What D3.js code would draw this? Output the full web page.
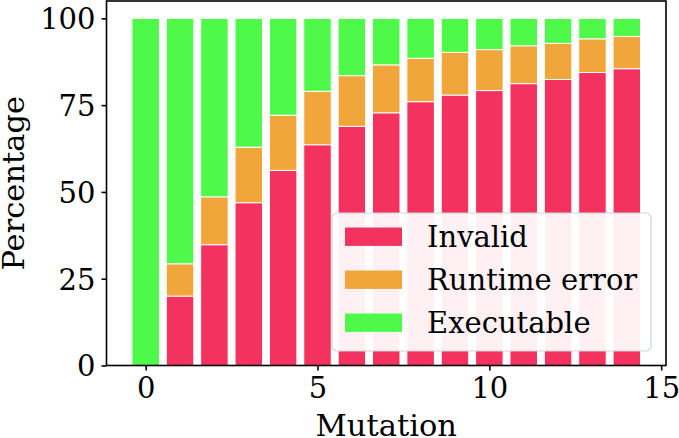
<!DOCTYPE html>
<html><head><meta charset="utf-8">
<script src="https://cdn.jsdelivr.net/npm/d3@7"></script>
<style>html,body{margin:0;padding:0;background:#fff;}svg{display:block;font-family:"DejaVu Serif",serif;}</style>
</head><body>
<svg id="c" width="679" height="438"></svg>
<script>
const mutations = [0,1,2,3,4,5,6,7,8,9,10,11,12,13,14];
const invalid   = [0,20.0,34.8,46.9,56.2,63.6,68.9,72.8,76.0,77.9,79.2,81.2,82.4,84.4,85.5];
const runtime   = [0,9.3,13.8,16.0,15.9,15.4,14.6,13.8,12.5,12.3,11.8,10.9,10.4,9.7,9.3];
const executable= mutations.map((d,i)=>100-invalid[i]-runtime[i]);
const seriesNames = ["Invalid","Runtime error","Executable"];
const colors = ["#f3325f","#f0a63a","#4ff94a"];
const yTicks = [0,25,50,75,100];
const xTicks = [0,5,10,15];

const svg = d3.select("#c");
const L=106.5, R=666, T=1, B=365.5;
const x = d3.scaleLinear().domain([-1.14,15.14]).range([L,R]);
const y = d3.scaleLinear().domain([0,105]).range([B,T]);
const fs = 29, lfs = 30.5;

const rows = mutations.map((m,i)=>({m, "Invalid":invalid[i], "Runtime error":runtime[i], "Executable":executable[i]}));
const stack = d3.stack().keys(seriesNames)(rows);
const bw = 0.8;
const g = svg.append("g");
stack.forEach((s,si)=>{
  g.selectAll(null).data(s.filter(d=>d[1]-d[0]>0)).enter().append("rect")
   .attr("x",d=>x(d.data.m-bw/2)).attr("width",d=>x(bw)-x(0))
   .attr("y",d=>y(d[1])).attr("height",d=>y(d[0])-y(d[1]))
   .attr("fill",colors[si]).attr("stroke","#fff").attr("stroke-width",1);
});

// axes
const ax = svg.append("g").attr("transform",`translate(0,${B})`)
  .call(d3.axisBottom(x).tickValues(xTicks).tickSize(5).tickPadding(6).tickFormat(d3.format("d")));
const ay = svg.append("g").attr("transform",`translate(${L},0)`)
  .call(d3.axisLeft(y).tickValues(yTicks).tickSize(5).tickPadding(6).tickFormat(d3.format("d")));
[ax,ay].forEach(a=>{
  a.select(".domain").remove();
  a.selectAll(".tick line").attr("stroke","#000").attr("stroke-width",1.6);
  a.selectAll(".tick text").attr("font-family","DejaVu Serif").attr("font-size",fs).attr("fill","#000");
});
ay.selectAll(".tick text").attr("dy","0.36em");
ax.selectAll(".tick text").attr("dy","0.74em");
svg.append("rect").attr("x",L).attr("y",T).attr("width",R-L).attr("height",B-T)
  .attr("fill","none").attr("stroke","#000").attr("stroke-width",1.6);

svg.append("text").attr("x",(L+R)/2).attr("y",436).attr("text-anchor","middle")
  .attr("font-size",lfs).text("Mutation");
svg.append("text").attr("transform",`translate(23.5,${(T+B)/2}) rotate(-90)`).attr("text-anchor","middle")
  .attr("font-size",lfs).text("Percentage");

// legend
const lg = svg.append("g");
lg.append("rect").attr("x",332).attr("y",213).attr("width",319).attr("height",138).attr("rx",5)
  .attr("fill","#fff").attr("fill-opacity",0.93).attr("stroke","#cdd5d3").attr("stroke-width",1.2);
seriesNames.forEach((n,i)=>{
  const cy = 236.7 + i*43;
  lg.append("rect").attr("x",345).attr("y",cy-9.2).attr("width",57).attr("height",18.4).attr("fill",colors[i]);
  lg.append("text").attr("x",427).attr("y",cy).attr("dy","0.36em").attr("font-size",fs).text(n);
});
</script>
</body></html>
